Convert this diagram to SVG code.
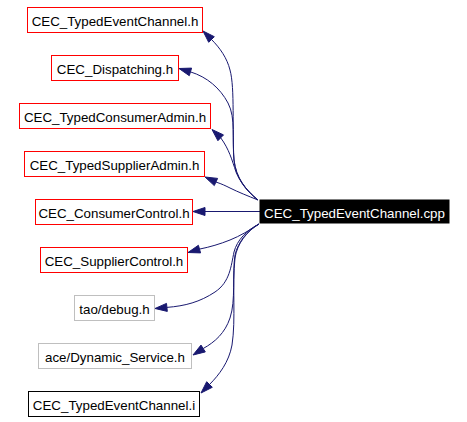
<svg xmlns="http://www.w3.org/2000/svg" width="467" height="422" viewBox="0 0 467 422">
<style>
  .box { fill: #ffffff; stroke-width: 1; }
  .red { stroke: #ff0000; }
  .gray { stroke: #bfbfbf; }
  .blk { stroke: #000000; }
  text { font-family: "Liberation Sans", Arial, Helvetica, sans-serif; font-size: 13.33px; text-anchor: middle; fill: #000000; }
  .edge { fill: none; stroke: #191970; stroke-width: 1; }
  .head { fill: #191970; stroke: #191970; stroke-width: 1; }
</style>
<rect width="467" height="422" fill="#ffffff"/>
<g id="connectors">
  <path class="edge" d="M258,200 C246,190 236,178 234,160 C232,130 235,88 230,70 C227,58 220,48 211.5,39.5"/>
  <polygon class="head" points="203,31 214.3,36.7 208.7,42.3"/>
  <path class="edge" d="M258,200 C245,190 236,178 234,160 C232,140 236,118 228,103 C220,88 207,77 190.5,71.9"/>
  <polygon class="head" points="179,68.5 191.6,68.1 189.3,75.7"/>
  <path class="edge" d="M258,200 C248,192 240,182 236,172 C232,160 229,149 220.7,137.8"/>
  <polygon class="head" points="212,129.5 223.5,134.9 217.9,140.7"/>
  <path class="edge" d="M258,200 C248,196 238,192 230,188 C226,186 222,184 215.9,182"/>
  <polygon class="head" points="205,177 217.6,178.4 214.3,185.6"/>
  <path class="edge" d="M260,211.5 L205,211.5"/>
  <polygon class="head" points="193,211.5 205,207.5 205,215.5"/>
  <path class="edge" d="M259,224 C250,230 240,236 230,240 C220,244 210,247 199.5,249.1"/>
  <polygon class="head" points="188,252.5 200.6,252.9 198.4,245.3"/>
  <path class="edge" d="M259,224 C247,230 237,240 234,252 C231,266 230,282 215,292 C200,302 185,306 166.9,307.4"/>
  <polygon class="head" points="155,308.5 167.3,311.4 166.5,303.4"/>
  <path class="edge" d="M259,224 C247,231 238,242 235,255 C232,275 236,300 230,318 C225,333 215,342 203.2,348.5"/>
  <polygon class="head" points="193,355 205.3,351.9 201,345.1"/>
  <path class="edge" d="M259,224 C247,231 237,244 235,258 C232,285 236,320 232,345 C229,362 219,375 209.5,384.5"/>
  <polygon class="head" points="201,393 212.3,387.3 206.7,381.7"/>
</g>
<g id="node-main">
  <rect x="260" y="200" width="189" height="23" fill="#000000" stroke="#000000"/>
  <text x="354.5" y="217.5" style="fill:#ffffff">CEC_TypedEventChannel.cpp</text>
</g>
<g id="node-typedeventchannel-h">
  <rect class="box red" x="27.5" y="7.5" width="175" height="25"/>
  <text x="115" y="26">CEC_TypedEventChannel.h</text>
</g>
<g id="node-dispatching-h">
  <rect class="box red" x="51.5" y="55.5" width="127" height="25"/>
  <text x="115" y="74">CEC_Dispatching.h</text>
</g>
<g id="node-typedconsumeradmin-h">
  <rect class="box red" x="19.5" y="103.5" width="191" height="25"/>
  <text x="115" y="122">CEC_TypedConsumerAdmin.h</text>
</g>
<g id="node-typedsupplieradmin-h">
  <rect class="box red" x="24.5" y="151.5" width="180" height="25"/>
  <text x="114.5" y="170">CEC_TypedSupplierAdmin.h</text>
</g>
<g id="node-consumercontrol-h">
  <rect class="box red" x="35.5" y="199.5" width="157" height="25"/>
  <text x="114" y="218">CEC_ConsumerControl.h</text>
</g>
<g id="node-suppliercontrol-h">
  <rect class="box red" x="40.5" y="247.5" width="147" height="25"/>
  <text x="114" y="266">CEC_SupplierControl.h</text>
</g>
<g id="node-tao-debug-h">
  <rect class="box gray" x="74.5" y="295.5" width="80" height="25"/>
  <text x="114.5" y="314">tao/debug.h</text>
</g>
<g id="node-ace-dynamic-service-h">
  <rect class="box gray" x="38.5" y="343.5" width="153" height="25"/>
  <text x="115" y="362">ace/Dynamic_Service.h</text>
</g>
<g id="node-typedeventchannel-i">
  <rect class="box blk" x="28.5" y="391.5" width="171" height="25"/>
  <text x="114" y="410">CEC_TypedEventChannel.i</text>
</g>
</svg>
